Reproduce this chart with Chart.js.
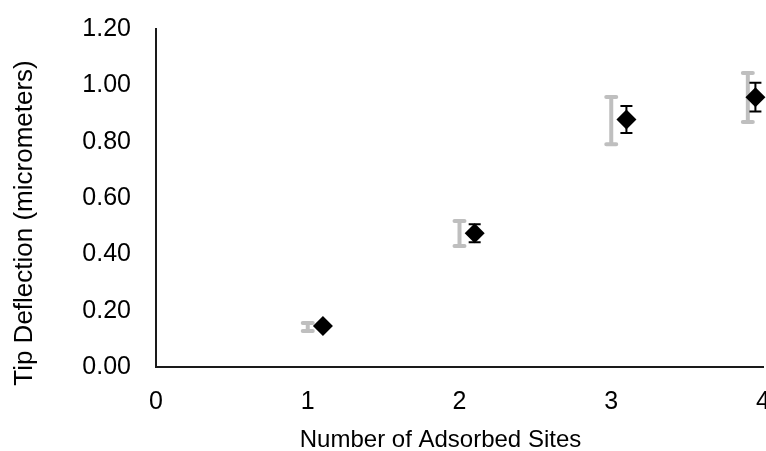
<!DOCTYPE html>
<html>
<head>
<meta charset="utf-8">
<script src="https://cdn.jsdelivr.net/npm/chart.js@4/dist/chart.umd.min.js"></script>
<style>
  html, body { margin: 0; padding: 0; background: #fff; }
  #wrap { width: 766px; height: 451px; position: relative; }
</style>
</head>
<body>
<div id="wrap"><canvas id="c"></canvas></div>
<script>
// Reference series (grey error bars only, no marker)
const refX   = [1.0, 2.0, 3.0, 3.9];
const refY   = [0.142, 0.474, 0.875, 0.957];
const refErr = [0.014, 0.044, 0.084, 0.087];

// Measured series (black diamonds with black error bars)
const measX   = [1.1, 2.1, 3.1, 3.95];
const measY   = [0.146, 0.475, 0.879, 0.958];
const measErr = [0.01, 0.032, 0.048, 0.051];

// Tick labels and axis titles
const xTickLabels = ['0', '1', '2', '3', '4'];
const yTickLabels = ['0.00', '0.20', '0.40', '0.60', '0.80', '1.00', '1.20'];
const xTitle = 'Number of Adsorbed Sites';
const yTitle = 'Tip Deflection (micrometers)';

const FONT = "'Liberation Sans', Arial, sans-serif";

// Draws vertical error bars with caps for every dataset that carries an `errors` array
const errorBars = {
  id: 'errorBars',
  beforeDatasetsDraw(chart) {
    const ctx = chart.ctx;
    const xs = chart.scales.x, ys = chart.scales.y;
    chart.data.datasets.forEach((ds) => {
      if (!ds.errors) return;
      ctx.save();
      ctx.strokeStyle = ds.errorColor;
      ctx.lineWidth = ds.errorWidth;
      ctx.lineCap = ds.errorCap;
      ds.data.forEach((p, i) => {
        const e = ds.errors[i];
        const px = xs.getPixelForValue(p.x);
        const top = ys.getPixelForValue(p.y + e);
        const bot = ys.getPixelForValue(p.y - e);
        const hw = ds.capHalfWidth;
        ctx.beginPath();
        ctx.moveTo(px, top); ctx.lineTo(px, bot);
        ctx.moveTo(px - hw, top); ctx.lineTo(px + hw, top);
        ctx.moveTo(px - hw, bot); ctx.lineTo(px + hw, bot);
        ctx.stroke();
      });
      ctx.restore();
    });
  }
};

// Axis titles, placed slightly off the plot-area centre
const axisTitles = {
  id: 'axisTitles',
  afterDraw(chart) {
    const { ctx, chartArea: a } = chart;
    const cx = (a.left + a.right) / 2;
    const cy = (a.top + a.bottom) / 2;
    ctx.save();
    ctx.fillStyle = '#000';
    ctx.textAlign = 'center';
    ctx.textBaseline = 'middle';
    ctx.font = '24px ' + FONT;
    ctx.fillText(xTitle, cx - 19, 440);
    ctx.font = '26px ' + FONT;
    ctx.translate(25, cy + 25);
    ctx.rotate(-Math.PI / 2);
    ctx.fillText(yTitle, 0, 0);
    ctx.restore();
  }
};

const toPoints = (xs, ys) => xs.map((x, i) => ({ x, y: ys[i] }));

new Chart(document.getElementById('c'), {
  type: 'scatter',
  data: {
    datasets: [
      {
        label: 'Reference',
        data: toPoints(refX, refY),
        pointRadius: 0,
        pointHoverRadius: 0,
        showLine: false,
        errors: refErr,
        errorColor: '#bfbfbf',
        errorWidth: 4,
        errorCap: 'round',
        capHalfWidth: 5,
        clip: false
      },
      {
        label: 'Measured',
        data: toPoints(measX, measY),
        pointStyle: 'rectRot',
        pointRadius: 10,
        pointHoverRadius: 10,
        backgroundColor: '#000',
        borderColor: '#000',
        borderWidth: 0,
        showLine: false,
        errors: measErr,
        errorColor: '#000',
        errorWidth: 2,
        errorCap: 'butt',
        capHalfWidth: 6,
        clip: false
      }
    ]
  },
  options: {
    responsive: true,
    maintainAspectRatio: false,
    animation: false,
    events: [],
    layout: { autoPadding: false, padding: { top: 29, right: 3, bottom: 0, left: 0 } },
    plugins: {
      legend: { display: false },
      tooltip: { enabled: false }
    },
    scales: {
      x: {
        type: 'linear',
        min: 0, max: 4,
        grid: { display: false, drawTicks: false },
        border: { display: true, color: '#1a1a1a', width: 2 },
        ticks: {
          stepSize: 1,
          padding: 20,
          color: '#000',
          font: { family: FONT, size: 25 },
          callback: (v) => xTickLabels[Math.round(v)]
        },
        afterFit(scale) { scale.height = 84; scale.paddingLeft = 0; scale.paddingRight = 0; }
      },
      y: {
        type: 'linear',
        min: 0, max: 1.2,
        grid: { display: false, drawTicks: false },
        border: { display: true, color: '#1a1a1a', width: 2 },
        ticks: {
          stepSize: 0.2,
          padding: 25,
          color: '#000',
          font: { family: FONT, size: 25 },
          callback: (v) => yTickLabels[Math.round(v / 0.2)]
        },
        afterFit(scale) { scale.width = 156; scale.paddingTop = 0; scale.paddingBottom = 0; }
      }
    }
  },
  plugins: [errorBars, axisTitles]
});
</script>
</body>
</html>
